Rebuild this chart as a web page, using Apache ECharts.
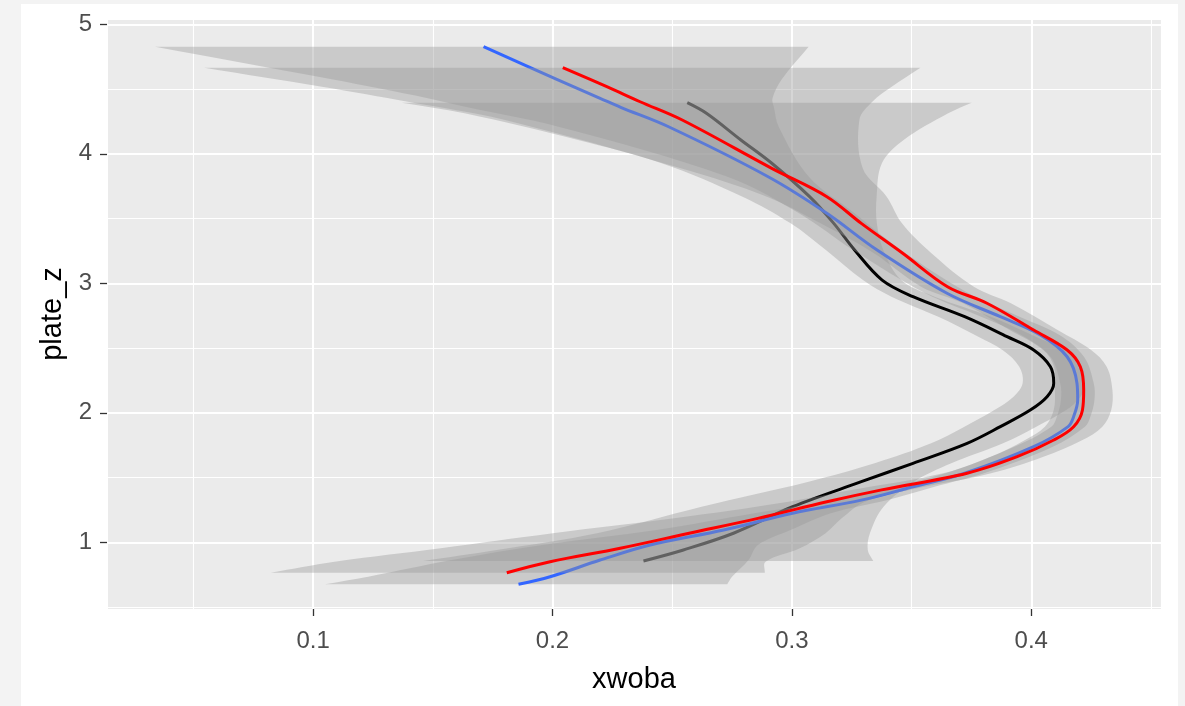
<!DOCTYPE html>
<html>
<head>
<meta charset="utf-8">
<title>xwoba by plate_z</title>
<script src="https://cdn.jsdelivr.net/npm/echarts@6/dist/echarts.min.js"></script>
<style>
  html, body { margin: 0; padding: 0; width: 1185px; height: 706px; background: #f3f3f3; overflow: hidden; }
  #frame { position: absolute; left: 21px; top: 4px; width: 1157px; height: 702px; background: #ffffff; }
  #chart { position: absolute; left: 0; top: 0; width: 1185px; height: 706px; }
</style>
</head>
<body>
<div id="frame"></div>
<div id="chart"></div>
<script>
// Smoothed xwoba as a function of plate_z for three groups, each with its confidence band.
// Values per group: plate_z (y), fitted xwoba, lower and upper band limits.
const blackY   = [4.395, 4.313, 4.107, 3.927, 3.669, 3.463, 3.257, 3.025, 2.897, 2.742, 2.588, 2.485, 2.356, 2.228, 2.124, 2.021, 1.893, 1.764, 1.610, 1.468, 1.275, 1.070, 0.941, 0.856];
const blackFit = [0.2563, 0.2643, 0.2787, 0.2916, 0.3074, 0.3175, 0.3262, 0.3377, 0.3506, 0.3722, 0.3899, 0.4010, 0.4080, 0.4094, 0.4066, 0.3996, 0.3871, 0.3732, 0.3506, 0.3290, 0.3003, 0.2756, 0.2547, 0.2380];
const blackLo  = [0.137, 0.1633, 0.2107, 0.2456, 0.2794, 0.2995, 0.3142, 0.3297, 0.3416, 0.3612, 0.3779, 0.3880, 0.3950, 0.3964, 0.3926, 0.3846, 0.3721, 0.3582, 0.3346, 0.3070, 0.2623, 0.2186, 0.1767, 0.146];
const blackHi  = [0.3751, 0.3653, 0.3467, 0.3376, 0.3354, 0.3355, 0.3382, 0.3457, 0.3596, 0.3832, 0.4019, 0.4140, 0.4210, 0.4224, 0.4206, 0.4146, 0.4021, 0.3882, 0.3666, 0.3510, 0.3383, 0.3326, 0.3317, 0.334];

const blueY   = [4.827, 4.575, 4.429, 4.359, 4.209, 3.823, 3.541, 3.257, 2.923, 2.742, 2.601, 2.433, 2.228, 2.099, 1.970, 1.893, 1.738, 1.533, 1.429, 1.326, 1.224, 1.095, 0.979, 0.863, 0.734, 0.676];
const blueFit = [0.1712, 0.2018, 0.2199, 0.2285, 0.2485, 0.2901, 0.3146, 0.3356, 0.3648, 0.3871, 0.4038, 0.4150, 0.4191, 0.4194, 0.4177, 0.4154, 0.4010, 0.3722, 0.3506, 0.3290, 0.3003, 0.2715, 0.2408, 0.2199, 0.1990, 0.1858];
const blueLo  = [0.034, 0.1078, 0.1479, 0.1645, 0.2025, 0.2731, 0.3030, 0.3256, 0.3558, 0.3791, 0.3958, 0.4080, 0.4121, 0.4124, 0.4107, 0.4084, 0.3930, 0.3642, 0.3416, 0.3180, 0.2843, 0.2435, 0.1958, 0.1579, 0.1230, 0.105];
const blueHi  = [0.307, 0.2958, 0.2919, 0.2925, 0.2945, 0.3071, 0.3262, 0.3456, 0.3738, 0.3951, 0.4118, 0.4220, 0.4261, 0.4264, 0.4247, 0.4224, 0.4090, 0.3802, 0.3596, 0.3400, 0.3163, 0.2995, 0.2858, 0.2819, 0.2750, 0.273];

const redY   = [4.665, 4.518, 4.402, 4.261, 3.888, 3.669, 3.463, 3.232, 2.974, 2.846, 2.639, 2.485, 2.356, 2.176, 2.022, 1.893, 1.790, 1.661, 1.533, 1.405, 1.313, 1.185, 1.070, 0.954, 0.850, 0.765];
const redFit = [0.2043, 0.2227, 0.2366, 0.2542, 0.2916, 0.3146, 0.3290, 0.3463, 0.3650, 0.3815, 0.4010, 0.4150, 0.4205, 0.4219, 0.4214, 0.4177, 0.4094, 0.3941, 0.3732, 0.3375, 0.3146, 0.2858, 0.2571, 0.2283, 0.1990, 0.1809];
const redLo  = [0.0545, 0.1037, 0.1396, 0.1802, 0.2536, 0.2896, 0.3120, 0.3343, 0.3540, 0.3715, 0.3910, 0.4050, 0.4095, 0.4099, 0.4094, 0.4057, 0.3974, 0.3831, 0.3632, 0.3255, 0.2986, 0.2508, 0.2001, 0.1533, 0.1090, 0.0823];
const redHi  = [0.3537, 0.3417, 0.3336, 0.3282, 0.3296, 0.3396, 0.3460, 0.3583, 0.3760, 0.3915, 0.4110, 0.4250, 0.4315, 0.4339, 0.4334, 0.4297, 0.4214, 0.4051, 0.3832, 0.3495, 0.3306, 0.3208, 0.3141, 0.3033, 0.2890, 0.2887];

// Axis ranges and labelled ticks
const xRange = [0.0139, 0.4542];
const yRange = [0.485, 5.041];
const xTicks = [0.1, 0.2, 0.3, 0.4];
const yTicks = [1, 2, 3, 4, 5];

const FONT = '"Liberation Sans", Arial, sans-serif';
const BAND_FILL = 'rgba(153,153,153,0.4)';

// Confidence band: one polygon running down the lower limits and back up the upper limits.
function bandSeries(name, ys, lo, hi, z) {
  return {
    type: 'custom',
    name: name,
    coordinateSystem: 'cartesian2d',
    xAxisIndex: 0,
    yAxisIndex: 0,
    z: z,
    silent: true,
    clip: true,
    data: ys.map((y, i) => [lo[i], y, hi[i]]),
    encode: { x: [0, 2], y: 1 },
    renderItem: function (params, api) {
      if (params.dataIndex !== 0) return null;
      const n = ys.length;
      const left = [];
      const right = [];
      for (let i = 0; i < n; i++) left.push(api.coord([lo[i], ys[i]]));
      for (let i = n - 1; i >= 0; i--) right.push(api.coord([hi[i], ys[i]]));
      // end vertices are doubled so the flat ends keep square corners under smoothing
      const pts = [left[0]].concat(left, [left[n - 1], right[0]], right, [right[n - 1]]);
      return {
        type: 'polygon',
        shape: { points: pts, smooth: 0.35 },
        style: { fill: BAND_FILL, stroke: null }
      };
    }
  };
}

function fitSeries(name, ys, fit, color, z) {
  return {
    type: 'line',
    name: name,
    xAxisIndex: 0,
    yAxisIndex: 0,
    z: z,
    silent: true,
    smooth: 0.35,
    symbol: 'none',
    data: ys.map((y, i) => [fit[i], y]),
    lineStyle: { color: color, width: 3, cap: 'butt', join: 'round' }
  };
}

const chart = echarts.init(document.getElementById('chart'), null, { renderer: 'canvas' });

chart.setOption({
  animation: false,
  backgroundColor: 'transparent',
  grid: {
    left: 107, top: 19, width: 1054, height: 590,
    show: true, backgroundColor: '#ebebeb', borderWidth: 0, containLabel: false
  },
  xAxis: [
    {
      type: 'value', position: 'bottom', min: xRange[0], max: xRange[1], splitNumber: 5,
      axisLine: { show: false },
      axisTick: { show: true, length: 7, customValues: xTicks, lineStyle: { color: '#333333', width: 1.3 } },
      axisLabel: { customValues: xTicks, color: '#4d4d4d', fontSize: 24, fontFamily: FONT, margin: 20,
                   formatter: v => v.toFixed(1) },
      splitLine: { show: true, lineStyle: { color: '#ffffff', width: 2 } },
      name: 'xwoba', nameLocation: 'middle', nameGap: 56,
      nameTextStyle: { color: '#000000', fontSize: 29, fontFamily: FONT }
    },
    {
      // minor grid lines
      type: 'value', position: 'top', min: xRange[0], max: xRange[1], splitNumber: 9,
      axisLine: { show: false }, axisTick: { show: false }, axisLabel: { show: false },
      splitLine: { show: true, lineStyle: { color: '#ffffff', width: 1.1 } }
    }
  ],
  yAxis: [
    {
      type: 'value', position: 'left', min: yRange[0], max: yRange[1], splitNumber: 5,
      axisLine: { show: false },
      axisTick: { show: true, length: 7, customValues: yTicks, lineStyle: { color: '#333333', width: 1.3 } },
      axisLabel: { customValues: yTicks, color: '#4d4d4d', fontSize: 24, fontFamily: FONT, margin: 15,
                   padding: [5, 0, 0, 0] },
      splitLine: { show: true, lineStyle: { color: '#ffffff', width: 2 } },
      name: 'plate_z', nameLocation: 'middle', nameGap: 40, nameRotate: 90,
      nameTextStyle: { color: '#000000', fontSize: 29, fontFamily: FONT }
    },
    {
      type: 'value', position: 'right', min: yRange[0], max: yRange[1], splitNumber: 9,
      axisLine: { show: false }, axisTick: { show: false }, axisLabel: { show: false },
      splitLine: { show: true, lineStyle: { color: '#ffffff', width: 1.1 } }
    }
  ],
  series: [
    bandSeries('black band', blackY, blackLo, blackHi, 2),
    fitSeries('black', blackY, blackFit, '#000000', 3),
    bandSeries('blue band', blueY, blueLo, blueHi, 4),
    fitSeries('blue', blueY, blueFit, '#3366ff', 5),
    bandSeries('red band', redY, redLo, redHi, 6),
    fitSeries('red', redY, redFit, '#ff0000', 7)
  ]
});
</script>
</body>
</html>
